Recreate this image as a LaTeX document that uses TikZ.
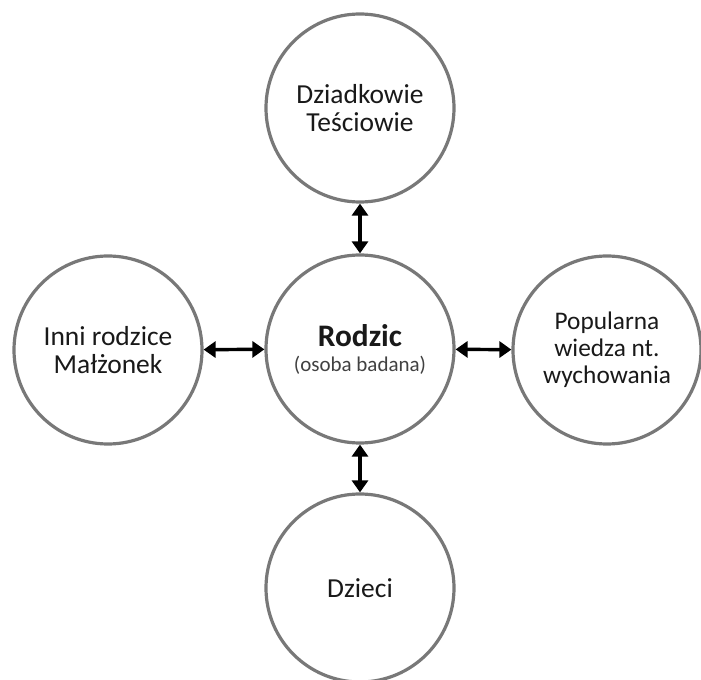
\documentclass[tikz,border=0pt]{standalone}
\usepackage{fontspec}
\setmainfont{Carlito}
\usetikzlibrary{arrows.meta}
\definecolor{ringgray}{RGB}{120,120,120}
\definecolor{txt}{RGB}{25,25,25}
\definecolor{subtxt}{RGB}{65,65,65}
\tikzset{
  ring/.style={circle, draw=ringgray, line width=2.4pt, fill=white,
    minimum size=141pt, inner sep=0pt, align=center, text=txt,
    font=\fontsize{20.6}{20.6}\selectfont},
  link/.style={line width=2.6pt, black, {Triangle[width=12pt,length=9pt]}-{Triangle[width=12pt,length=9pt]}}
}
\begin{document}
\begin{tikzpicture}[x=0.75pt,y=-0.75pt]
\useasboundingbox (0,0) rectangle (701,680);
\node[ring] (top) at (360,108) {Dziadkowie\\Teściowie};
\node[ring, font=\fontsize{20.6}{18.75}\selectfont] (mid) at (360,349)
  {{\fontsize{23.5}{18.75}\selectfont\bfseries Rodzic}\\{\fontsize{15.75}{18.75}\selectfont\color{subtxt}(osoba badana)}};
\node[ring] (left) at (108,350) {Inni rodzice\\Małżonek};
\node[ring, font=\fontsize{19}{20.3}\selectfont] (right) at (607,350) {Popularna\\wiedza nt.\\wychowania};
\node[ring] (bot) at (360,588) {Dzieci};
\draw[link] (top) -- (mid);
\draw[link] (left) -- (mid);
\draw[link] (mid) -- (right);
\draw[link] (mid) -- (bot);
\end{tikzpicture}
\end{document}
